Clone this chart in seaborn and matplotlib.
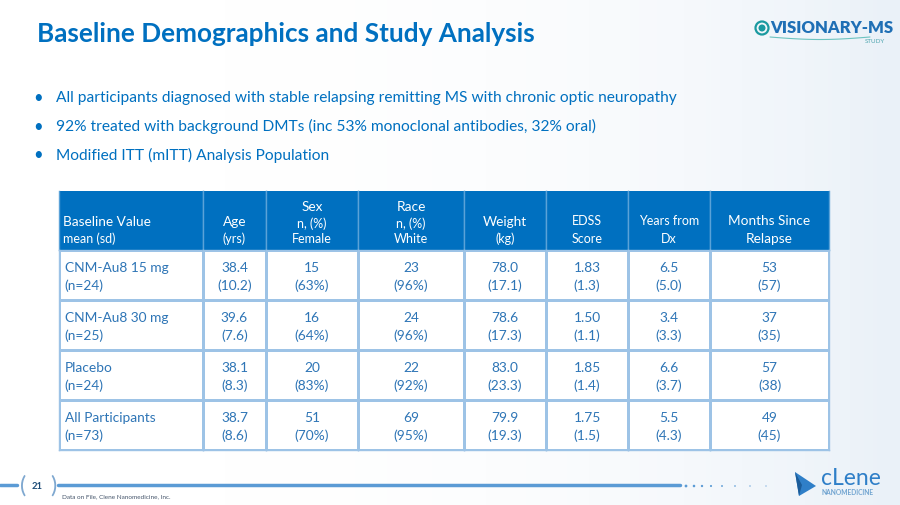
import numpy as np
import pandas as pd
import seaborn as sns
import matplotlib.pyplot as plt
from matplotlib.colors import ListedColormap
from matplotlib.patches import Polygon, Circle

# ---- table data -------------------------------------------------------------
groups = ["CNM-Au8 15 mg", "CNM-Au8 30 mg", "Placebo", "All Participants"]
group_n = [24, 25, 24, 73]
age_mean = [38.4, 39.6, 38.1, 38.7]
age_sd = [10.2, 7.6, 8.3, 8.6]
female_n = [15, 16, 20, 51]
female_pct = [63, 64, 83, 70]
white_n = [23, 24, 22, 69]
white_pct = [96, 96, 92, 95]
weight_mean = [78.0, 78.6, 83.0, 79.9]
weight_sd = [17.1, 17.3, 23.3, 19.3]
edss_mean = [1.83, 1.50, 1.85, 1.75]
edss_sd = [1.3, 1.1, 1.4, 1.5]
years_dx_mean = [6.5, 3.4, 6.6, 5.5]
years_dx_sd = [5.0, 3.3, 3.7, 4.3]
relapse_mean = [53, 37, 57, 49]
relapse_sd = [57, 35, 38, 45]

# header lines: (text, big?)
headers = [
    [("Baseline Value", True), ("mean (sd)", False)],
    [("Age", True), ("(yrs)", False)],
    [("Sex", True), ("n, (%)", False), ("Female", False)],
    [("Race", True), ("n, (%)", False), ("White", False)],
    [("Weight", True), ("(kg)", False)],
    [("EDSS", False), ("Score", False)],
    [("Years from", False), ("Dx", False)],
    [("Months Since", True), ("Relapse", True)],
]

bullets = [
    "All participants diagnosed with stable relapsing remitting MS with chronic optic neuropathy",
    "92% treated with background DMTs (inc 53% monoclonal antibodies, 32% oral)",
    "Modified ITT (mITT) Analysis Population",
]

# two-line cell strings per column
cells = [
    (groups, [f"(n={n})" for n in group_n]),
    ([f"{v:.1f}" for v in age_mean], [f"({v:.1f})" for v in age_sd]),
    ([f"{v}" for v in female_n], [f"({v}%)" for v in female_pct]),
    ([f"{v}" for v in white_n], [f"({v}%)" for v in white_pct]),
    ([f"{v:.1f}" for v in weight_mean], [f"({v:.1f})" for v in weight_sd]),
    ([f"{v:.2f}" for v in edss_mean], [f"({v:.1f})" for v in edss_sd]),
    ([f"{v:.1f}" for v in years_dx_mean], [f"({v:.1f})" for v in years_dx_sd]),
    ([f"{v}" for v in relapse_mean], [f"({v})" for v in relapse_sd]),
]

# ---- style ------------------------------------------------------------------
sns.set_theme(style="white")
plt.rcParams["font.family"] = ["Lato", "DejaVu Sans"]

BLUE = "#0070C0"
TEXT = "#2E75B6"
GRID = "#9DC3E6"
HEAD_SEP = "#5AA2D8"
FOOT = "#5B9BD5"

W, H = 900, 506
fig = plt.figure(figsize=(9, 5.06), dpi=100)
fig.patch.set_facecolor("white")

# background / decoration axes in pixel coordinates
bg = fig.add_axes([0, 0, 1, 1], zorder=0)
bg.set_xlim(0, W)
bg.set_ylim(H, 0)
bg.axis("off")
grad = np.linspace(0, 1, 200) ** 3
bg.imshow(np.tile(grad, (10, 1)), extent=[0, W, H, 0], aspect="auto",
          cmap=ListedColormap(sns.blend_palette(["#FFFFFF", "#EAF1F8"], 64)))

# title and bullets
bg.text(37, 34, "Baseline Demographics and Study Analysis", fontsize=18.8,
        fontweight="bold", color=BLUE, va="center", ha="left")
for i, b in enumerate(bullets):
    y = 98 + i * 28.5
    bg.text(38, y, "\u2022", fontsize=12, color=BLUE, va="center", ha="center")
    bg.text(56, y, b, fontsize=11.2, color=BLUE, va="center", ha="left")

# VISIONARY-MS logo
bg.add_patch(Circle((762, 29), 6.5, fill=False, ec="#1A9AA0", lw=1.6))
bg.add_patch(Circle((762, 29), 3.5, fc="#1A9AA0", ec="none"))
bg.text(770, 28, "VISIONARY-MS", fontsize=12, fontweight="heavy",
        color="#1F6FB5", va="center", ha="left")
bg.text(885, 41, "STUDY", fontsize=4.5, color="#4FA6B0", va="center", ha="right")
sx = np.linspace(770, 870, 50)
bg.plot(sx, 38 + 2.5 * np.sin((sx - 770) / 100 * np.pi), color="#6CC3C0", lw=0.8)

# footer
bg.plot([0, 17], [486, 486], color=FOOT, lw=2.5)
bg.plot([58, 680], [486, 486], color=FOOT, lw=2.5)
bg.text(23, 486, "(", fontsize=17, color="#7FA8D0", va="center", ha="center")
bg.text(53, 486, ")", fontsize=17, color="#7FA8D0", va="center", ha="center")
bg.text(37, 487, "21", fontsize=6.8, color="#1F4E79", va="center", ha="center",
        fontweight="bold")
bg.text(62, 497, "Data on File, Clene Nanomedicine, Inc.", fontsize=4.6,
        color="#44546A", va="center", ha="left")
for k, dx in enumerate([686, 694, 702, 711, 722, 735, 750, 766]):
    bg.add_patch(Circle((dx, 487), max(1.4 - k * 0.12, 0.6), fc=FOOT, ec="none"))
bg.add_patch(Polygon([[795, 473], [816, 487], [799, 497]], closed=True,
                     fc="#2F7FC8", ec="none"))
bg.add_patch(Polygon([[795, 473], [799, 497], [802, 486]], closed=True,
                     fc="#1B5C99", ec="none"))
bg.text(821, 479, "cLene", fontsize=16.5, color="#2F7FC8", va="center", ha="left")
bg.text(822, 493, "NANOMEDICINE", fontsize=4.8, color="#6FA3D0", va="center",
        ha="left", fontweight="bold")

# ---- table ------------------------------------------------------------------
col_w = [144, 63, 92, 106, 82, 82, 82, 119]
left, right, top, head_bot, bottom = 59, 829, 192, 251, 451
gs = fig.add_gridspec(2, len(col_w), width_ratios=col_w,
                      height_ratios=[head_bot - top, bottom - head_bot],
                      left=left / W, right=right / W, top=1 - top / H,
                      bottom=1 - bottom / H, wspace=0, hspace=0)

for j in range(len(col_w)):
    # header cell
    hax = fig.add_subplot(gs[0, j], zorder=2)
    sns.heatmap(pd.DataFrame([[0]]), ax=hax, cmap=ListedColormap([BLUE]),
                vmin=0, vmax=1, cbar=False, xticklabels=False, yticklabels=False)
    for side, s in hax.spines.items():
        s.set_visible(side in ("left", "right"))
        s.set_color(HEAD_SEP)
        s.set_linewidth(1)
    lines = headers[j]
    ys = {2: [0.49, 0.79], 3: [0.25, 0.53, 0.80]}[len(lines)]
    if j in (0, 1, 4):
        ys = [0.51, 0.80]
    for (txt, big), y in zip(lines, ys):
        x, ha = (0.03, "left") if j == 0 else (0.5, "center")
        hax.text(x, y, txt, fontsize=9.8 if big else 9.0, color="white",
                 ha=ha, va="center")

    # body cells
    bax = fig.add_subplot(gs[1, j], zorder=2)
    sns.heatmap(pd.DataFrame(np.zeros((len(groups), 1))), ax=bax,
                cmap=ListedColormap(["white"]), vmin=0, vmax=1, cbar=False,
                linewidths=1, linecolor=GRID, xticklabels=False, yticklabels=False)
    for s in bax.spines.values():
        s.set_visible(True)
        s.set_color(GRID)
        s.set_linewidth(1)
    top_vals, sd_vals = cells[j]
    for i in range(len(groups)):
        x, ha = (0.04, "left") if j == 0 else (0.5, "center")
        bax.text(x, i + 0.34, top_vals[i], fontsize=9.9, color=TEXT, ha=ha, va="center")
        bax.text(x, i + 0.70, sd_vals[i], fontsize=9.9, color=TEXT, ha=ha, va="center")

plt.savefig("out.png", dpi=100, facecolor=fig.get_facecolor())
